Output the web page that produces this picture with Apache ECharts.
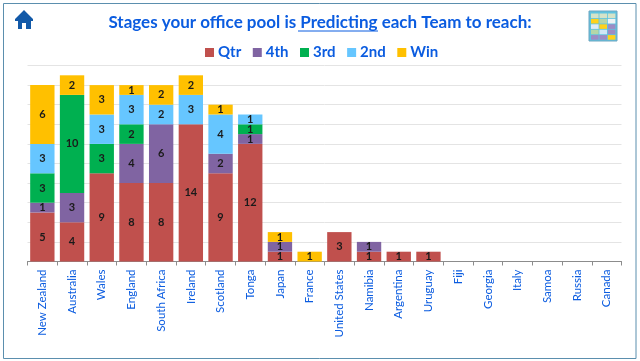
<!DOCTYPE html>
<html>
<head>
<meta charset="utf-8">
<style>
  html, body { margin: 0; padding: 0; background: #fff; }
  #chart { width: 640px; height: 361px; }
</style>
<script src="https://cdn.jsdelivr.net/npm/echarts@6/dist/echarts.min.js"></script>
</head>
<body>
<div id="chart"></div>
<script>
const teams = ['New Zealand', 'Australia', 'Wales', 'England', 'South Africa', 'Ireland', 'Scotland', 'Tonga', 'Japan', 'France', 'United States', 'Namibia', 'Argentina', 'Uruguay', 'Fiji', 'Georgia', 'Italy', 'Samoa', 'Russia', 'Canada']
const qtr = [5, 4, 9, 8, 8, 14, 9, 12, 1, 0, 3, 1, 1, 1, 0, 0, 0, 0, 0, 0]
const fourth = [1, 3, 0, 4, 6, 0, 2, 1, 1, 0, 0, 1, 0, 0, 0, 0, 0, 0, 0, 0]
const third = [3, 10, 3, 2, 0, 0, 0, 1, 0, 0, 0, 0, 0, 0, 0, 0, 0, 0, 0, 0]
const second = [3, 0, 3, 3, 2, 3, 4, 1, 0, 0, 0, 0, 0, 0, 0, 0, 0, 0, 0, 0]
const win = [6, 2, 3, 1, 2, 2, 1, 0, 1, 1, 0, 0, 0, 0, 0, 0, 0, 0, 0, 0]

const BLUE = '#0b5ce0'
const FONT = 'Lato'

// little pool grid picture, top right
const thumbCells = [
  ['#d5e3c8', '#d5e3c8', '#d5e3c8'],
  ['#ffd21a', '#b5d6a8', '#eef3f5'],
  ['#dfeaf5', '#ffd21a', '#9d8cc4'],
  ['#b5d6a8', '#cfe6f5', '#9d8cc4'],
  ['#9d8cc4', '#9d8cc4', '#ffd21a']
]

const chart = echarts.init(document.getElementById('chart'))

const makeSeries = (name, data, color) => ({
  name,
  type: 'bar',
  stack: 'stages',
  data,
  barWidth: '82%',
  itemStyle: { color },
  label: {
    show: true,
    position: 'inside',
    color: '#1a1a1a',
    fontFamily: FONT,
    fontSize: 11,
    fontWeight: 'bold',
    // zero values get no label
    formatter: (p) => (p.value ? p.value : '')
  }
})

const thumbGraphics = []
thumbCells.forEach((row, r) => {
  row.forEach((fill, c) => {
    thumbGraphics.push({
      type: 'rect',
      shape: { x: 591 + c * 8.4, y: 13.5 + r * 5.4, width: 7.6, height: 4.6 },
      style: { fill },
      silent: true
    })
  })
})

chart.setOption({
  animation: false,
  backgroundColor: '#fff',
  textStyle: { fontFamily: FONT },
  title: {
    text: 'Stages your office pool is Predicting each Team to reach:',
    left: 315,
    top: 9,
    textAlign: 'center',
    textStyle: { color: BLUE, fontFamily: FONT, fontSize: 17, fontWeight: 'bold' }
  },
  legend: {
    top: 40,
    left: 200,
    itemWidth: 9,
    itemHeight: 9,
    itemGap: 11.5,
    icon: 'rect',
    textStyle: { color: BLUE, fontFamily: FONT, fontSize: 15, fontWeight: 'bold', padding: [0, 0, 0, -1] },
    data: ['Qtr', '4th', '3rd', '2nd', 'Win']
  },
  grid: { left: 27.5, right: 18.5, top: 65.5, bottom: 99.5 },
  xAxis: {
    type: 'category',
    data: teams,
    axisLine: { lineStyle: { color: '#8c8c8c' } },
    axisTick: { show: true, length: 4, alignWithLabel: false, lineStyle: { color: '#8c8c8c' } },
    axisLabel: {
      rotate: 90,
      interval: 0,
      margin: 8,
      color: BLUE,
      fontFamily: FONT,
      fontSize: 11.5
    }
  },
  yAxis: {
    type: 'value',
    min: 0,
    max: 20,
    interval: 2,
    axisLabel: { show: false },
    axisLine: { show: false },
    axisTick: { show: false },
    splitLine: { lineStyle: { color: '#e4e4e4' } }
  },
  series: [
    makeSeries('Qtr', qtr, '#c0504d'),
    makeSeries('4th', fourth, '#8064a2'),
    makeSeries('3rd', third, '#00b050'),
    makeSeries('2nd', second, '#66c6ff'),
    makeSeries('Win', win, '#ffc000')
  ],
  graphic: [
    // outer frame
    { type: 'rect', shape: { x: 3.5, y: 3.5, width: 632.5, height: 355 }, style: { fill: 'none', stroke: '#5b8fae', lineWidth: 1 }, silent: true },
    // underline below Predicting
    { type: 'line', shape: { x1: 298, y1: 31, x2: 378, y2: 31 }, style: { stroke: BLUE, lineWidth: 1 }, silent: true },
    // home icon
    { type: 'polygon', shape: { points: [[24, 10], [15, 19], [15, 21], [18, 21], [18, 29], [22, 29], [22, 23], [26, 23], [26, 29], [31, 29], [31, 21], [33, 21], [33, 19]] }, style: { fill: '#1259a8' }, silent: true },
    // pool grid thumbnail
    { type: 'rect', shape: { x: 589, y: 11, width: 28, height: 30 }, style: { fill: '#5fc3e0', stroke: '#6fa5c0', lineWidth: 1 }, silent: true },
    ...thumbGraphics
  ]
})
</script>
</body>
</html>
